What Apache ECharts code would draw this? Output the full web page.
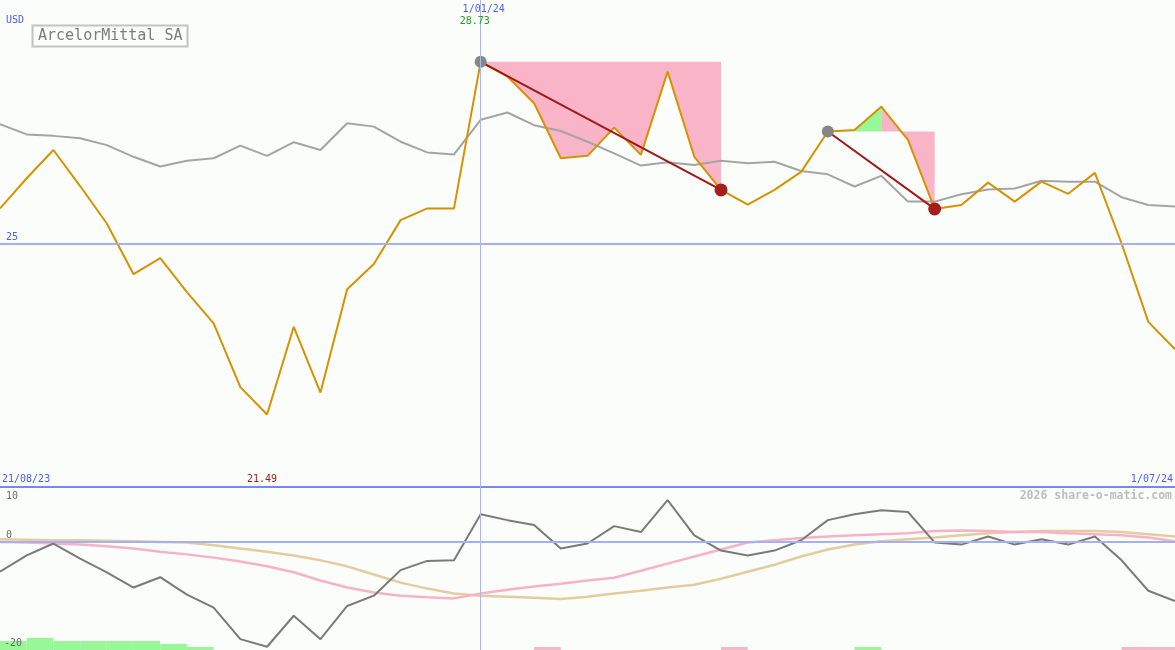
<!DOCTYPE html>
<html>
<head>
<meta charset="utf-8">
<script src="https://cdn.jsdelivr.net/npm/echarts@6/dist/echarts.min.js"></script>
<style>
html,body{margin:0;padding:0;background:#fbfdfb;}
#c{width:1175px;height:650px;}
</style>
</head>
<body>
<div id="c"></div>
<script>
// ---- data ----
const dates = ['28/08/23','4/09/23','11/09/23','18/09/23','25/09/23','2/10/23','9/10/23','16/10/23','23/10/23','30/10/23',
  '6/11/23','13/11/23','20/11/23','27/11/23','4/12/23','11/12/23','18/12/23','25/12/23','1/01/24','8/01/24',
  '15/01/24','22/01/24','29/01/24','5/02/24','12/02/24','19/02/24','26/02/24','4/03/24','11/03/24','18/03/24',
  '25/03/24','1/04/24','8/04/24','15/04/24','22/04/24','29/04/24','6/05/24','13/05/24','20/05/24','27/05/24',
  '3/06/24','10/06/24','17/06/24','24/06/24','1/07/24'];
const rangeStart = '21/08/23';
const prices = [25.72,26.34,26.92,26.18,25.41,24.37,24.70,24.00,23.36,22.05,
  21.49,23.29,21.94,24.06,24.58,25.48,25.72,25.72,28.73,28.43,
  27.88,26.75,26.80,27.38,26.82,28.53,26.78,26.10,25.80,26.10,
  26.47,27.30,27.33,27.81,27.13,25.71,25.79,26.25,25.86,26.27,
  26.02,26.45,25.00,23.39,22.83];
const benchmark = [27.45,27.24,27.21,27.16,27.02,26.78,26.58,26.70,26.75,27.01,
  26.80,27.08,26.92,27.47,27.40,27.09,26.87,26.83,27.54,27.69,
  27.43,27.31,27.09,26.85,26.60,26.67,26.61,26.70,26.65,26.68,
  26.49,26.42,26.17,26.39,25.86,25.86,26.01,26.11,26.13,26.29,
  26.27,26.27,25.95,25.79,25.76];
const momentum = [-5.6,-2.6,-0.4,-3.2,-5.7,-8.5,-6.6,-9.8,-12.2,-18.0,
  -19.4,-13.7,-18.0,-11.9,-10.0,-5.3,-3.6,-3.5,5.0,3.9,
  3.0,-1.3,-0.4,2.8,1.7,7.6,1.1,-1.7,-2.6,-1.7,
  0.2,3.9,5.0,5.7,5.4,-0.2,-0.6,0.9,-0.6,0.4,
  -0.6,0.9,-3.5,-9.1,-11.0];
const fastAvg = [-0.1,-0.2,-0.4,-0.6,-0.9,-1.3,-1.9,-2.4,-3.0,-3.7,
  -4.6,-5.7,-7.2,-8.5,-9.4,-10.0,-10.3,-10.5,-9.6,-8.9,
  -8.3,-7.8,-7.2,-6.7,-5.4,-4.1,-2.8,-1.5,-0.2,0.2,
  0.6,0.9,1.1,1.3,1.5,1.9,2.0,1.9,1.7,1.7,
  1.5,1.3,1.1,0.7,0.0];
const slowAvg = [0.4,0.3,0.2,0.2,0.1,0.0,-0.1,-0.2,-0.7,-1.3,
  -1.9,-2.6,-3.5,-4.6,-6.1,-7.6,-8.7,-9.6,-10.0,-10.2,
  -10.4,-10.6,-10.2,-9.6,-9.1,-8.5,-8.0,-6.9,-5.6,-4.3,
  -2.8,-1.5,-0.6,0.0,0.4,0.7,1.1,1.5,1.7,1.9,
  1.9,1.9,1.7,1.3,0.9];
// signal bars, one per interval between consecutive dates
const upBars =   [3,4,3,3,3,3,2,1,null,null, null,null,null,null,null,null,null,null,null,null,
  null,null,null,null,null,null,null,null,null,null, null,null,1,null,null,null,null,null,null,null,
  null,null,null,null];
const downBars = [null,null,null,null,null,null,null,null,null,null, null,null,null,null,null,null,null,null,null,null,
  1,null,null,null,null,null,null,1,null,null, null,null,null,null,null,null,null,null,null,null,
  null,null,1,1];
// trades: start index, peak index, end index
const trades = [{start:18, peak:18, end:27},{start:31, peak:33, end:35}];
const refLevel = 25;
const markIndex = 18;
const title = 'ArcelorMittal SA';
const currency = 'USD';
const watermark = '2026 share-o-matic.com';

// ---- build ----
const mono = 'DejaVu Sans Mono';
const blue = '#4a5ef0';
const segIdx = dates.slice(0, dates.length - 1).map((d, i) => i);

function slice(arr, a, b) { return arr.map((v, i) => (i >= a && i <= b) ? v : null); }

const series = [];
trades.forEach((t, k) => {
  const level = prices[t.start];
  if (t.peak > t.start) {
    series.push({type:'line', xAxisIndex:0, yAxisIndex:0, data: slice(prices, t.start, t.peak),
      symbol:'none', lineStyle:{opacity:0, width:0}, areaStyle:{color:'#98f898', opacity:1, origin: level}, z:1, silent:true});
  }
  series.push({type:'line', xAxisIndex:0, yAxisIndex:0, data: slice(prices, t.peak, t.end),
    symbol:'none', lineStyle:{opacity:0, width:0}, areaStyle:{color:'#fab4c8', opacity:1, origin: level}, z:1, silent:true});
});
series.push({type:'line', xAxisIndex:0, yAxisIndex:0, data: benchmark, symbol:'none',
  lineStyle:{color:'#a4a4a4', width:2}, z:2,
  markLine:{silent:true, symbol:'none', animation:false,
    data:[{yAxis: refLevel, lineStyle:{color:'#a4b0f2', width:2, type:'solid'},
           label:{show:true, position:'insideStartTop', formatter: String(refLevel), color: blue, fontFamily: mono, fontSize:10, distance:[6,1]}},
          {xAxis: markIndex, lineStyle:{color:'#aab8ee', width:1, type:'solid'}, label:{show:false}}]}});
series.push({type:'line', xAxisIndex:0, yAxisIndex:0, data: prices, symbol:'none',
  lineStyle:{color:'#d69200', width:2}, z:3});
trades.forEach((t) => {
  const d = prices.map(() => null);
  d[t.start] = {value: prices[t.start], symbolSize: 12, itemStyle:{color:'#868686'}};
  d[t.end] = {value: prices[t.end], symbolSize: 13, itemStyle:{color:'#a41e1e'}};
  series.push({type:'line', xAxisIndex:0, yAxisIndex:0, data: d, connectNulls:true, symbol:'circle',
    showSymbol:true, showAllSymbol:true, lineStyle:{color:'#a01818', width:2}, z:4});
});
// lower panel
series.push({type:'line', xAxisIndex:1, yAxisIndex:1, data: slowAvg, symbol:'none', lineStyle:{color:'#e4cc9e', width:2.5}, z:2,
  markLine:{silent:true, symbol:'none', animation:false,
    data:[{yAxis:0, lineStyle:{color:'#a4b0f2', width:2, type:'solid'}, label:{show:false}},
          {xAxis: markIndex, lineStyle:{color:'#aab8ee', width:1, type:'solid'}, label:{show:false}}]}});
series.push({type:'line', xAxisIndex:1, yAxisIndex:1, data: fastAvg, symbol:'none', lineStyle:{color:'#f8b2c8', width:2.5}, z:2});
series.push({type:'line', xAxisIndex:1, yAxisIndex:1, data: momentum, symbol:'none', lineStyle:{color:'#7a7a7a', width:2}, z:3});
series.push({type:'bar', xAxisIndex:2, yAxisIndex:2, data: upBars, stack:'sig', barWidth:'100%', itemStyle:{color:'#98f898'}, z:1});
series.push({type:'bar', xAxisIndex:2, yAxisIndex:2, data: downBars, stack:'sig', barWidth:'100%', itemStyle:{color:'#fab4c8'}, z:1});

const chart = echarts.init(document.getElementById('c'), null, {renderer:'canvas'});
const option = {
  animation:false,
  backgroundColor:'#fbfdfb',
  grid:[{left:0, right:0, top:0, height:487},
        {left:0, right:0, top:487, height:163},
        {left:0, right:0, top:487, height:163}],
  xAxis:[
    {type:'category', gridIndex:0, data: dates, boundaryGap:false,
      axisLine:{show:true, lineStyle:{color:'#7888ee', width:2}}, axisTick:{show:false}, axisLabel:{show:false}, splitLine:{show:false}},
    {type:'category', gridIndex:1, data: dates, boundaryGap:false, show:false},
    {type:'category', gridIndex:2, data: segIdx, boundaryGap:true, show:false}
  ],
  yAxis:[
    {type:'value', gridIndex:0, min:20, max:30, interval:5, show:false, splitLine:{show:false}},
    {type:'value', gridIndex:1, min:-20, max:10, interval:10, show:false, splitLine:{show:false}},
    {type:'value', gridIndex:2, min:0, max:54, show:false, splitLine:{show:false}}
  ],
  series: series
};
chart.setOption(option);

// ---- labels placed through the axes ----
const px = (i, v) => chart.convertToPixel({xAxisIndex:0, yAxisIndex:0}, [i, v]);
const pxLow = (i, v) => chart.convertToPixel({xAxisIndex:1, yAxisIndex:1}, [i, v]);
const minIdx = prices.indexOf(Math.min(...prices));
const mk = px(markIndex, prices[markIndex]);
const mn = px(minIdx, prices[minIdx]);
const bottomMain = px(0, 20)[1];
const p10 = pxLow(0, 10), p0 = pxLow(0, 0), pm20 = pxLow(0, -20);
const txt = (x, y, s, color, size, align, vAlign, weight) => ({type:'text', x:x, y:y, silent:true, z:100,
  style:{text:s, fill:color, font:(weight||'normal') + ' ' + size + 'px "' + mono + '"', textAlign:align||'left', textVerticalAlign:vAlign||'middle'}});
chart.setOption({graphic:[
  txt(6, 20, currency, blue, 10),
  {type:'rect', shape:{x:32.5, y:25.5, width:155, height:21}, style:{fill:'#fbfdfb', stroke:'#c2c2c2', lineWidth:2}, z:99, silent:true},
  txt(38, 36.5, title, '#7c7c7c', 15),
  txt(mk[0] + 3, 9, dates[markIndex], blue, 10, 'center'),
  txt(mk[0] - 6, 21, prices[markIndex].toFixed(2), '#22a022', 10, 'center'),
  txt(2, bottomMain - 8, rangeStart, blue, 10),
  txt(1173, bottomMain - 8, dates[dates.length - 1], blue, 10, 'right'),
  txt(mn[0] - 5, bottomMain - 8, prices[minIdx].toFixed(2), '#a01c1c', 10, 'center'),
  txt(1172, p10[1] + 9, watermark, '#bdbdbd', 11.5, 'right', 'middle', 'bold'),
  txt(6, p10[1] + 9, '10', '#6a6a6a', 10),
  txt(6, p0[1] - 6, '0', '#6a6a6a', 10),
  txt(4, pm20[1] - 7, '-20', '#6a6a6a', 10)
]});
</script>
</body>
</html>
